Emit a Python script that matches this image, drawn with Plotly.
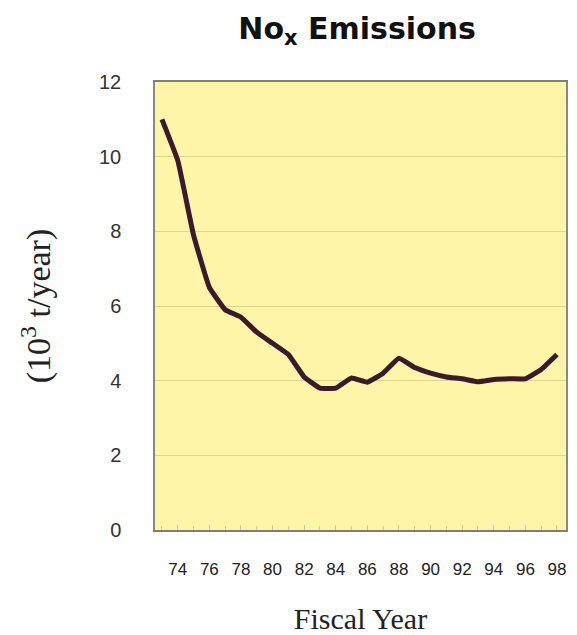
import plotly.graph_objects as go

years = list(range(73, 99))
nox = [11.0, 9.9, 7.9, 6.5, 5.9, 5.7, 5.3, 5.0, 4.7, 4.1, 3.8, 3.8, 4.07, 3.96,
       4.2, 4.6, 4.35, 4.2, 4.1, 4.05, 3.97, 4.03, 4.05, 4.05, 4.3, 4.7]
x_ticks = list(range(74, 99, 2))
x_labels = [str(v) for v in x_ticks]
y_ticks = list(range(0, 13, 2))

fig = go.Figure()
fig.add_trace(go.Scatter(
    x=years, y=nox, mode="lines",
    line=dict(color="#3b1a2c", width=5, shape="spline", smoothing=0.3),
    showlegend=False, hoverinfo="skip"))

fig.update_layout(
    width=577, height=635,
    margin=dict(l=155, r=11, t=82, b=105, autoexpand=False),
    paper_bgcolor="white",
    plot_bgcolor="#FEF5A9",
    title=dict(text="No<sub>x</sub> Emissions", x=0.619, xanchor="center",
               y=0.955, yanchor="middle",
               font=dict(family="DejaVu Sans", size=30, color="#111111", weight="bold")),
    xaxis=dict(
        range=[72.56, 98.57],
        tickmode="array", tickvals=x_ticks, ticktext=x_labels,
        ticks="inside", ticklen=5, tickcolor="#C8C4A8",
        minor=dict(dtick=1, ticks="inside", ticklen=4, tickcolor="#D0CCB0"),
        showgrid=False, zeroline=False,
        showline=True, linecolor="#808070", linewidth=1.5, mirror=True,
        ticklabelstandoff=23,
        tickfont=dict(family="Liberation Sans, Arial", size=17, color="#222222"),
        title=dict(text="Fiscal Year", standoff=36,
                   font=dict(family="Liberation Serif, Times New Roman", size=30, color="#222222")),
    ),
    yaxis=dict(
        range=[0, 12],
        tickmode="array", tickvals=y_ticks,
        ticks="", showgrid=True, gridcolor="#DDD393", gridwidth=1,
        zeroline=False,
        showline=True, linecolor="#8a8a7a", linewidth=1.5, mirror=True,
        ticklabelstandoff=28,
        tickfont=dict(family="Liberation Sans, Arial", size=20, color="#333333"),
        title=dict(text="(10<sup>3</sup> t/year)", standoff=38,
                   font=dict(family="Liberation Serif, Times New Roman", size=34, color="#222222")),
    ),
)

fig.write_html("out.html", config={"displayModeBar": False},
               post_script="document.body.style.margin='0';")
